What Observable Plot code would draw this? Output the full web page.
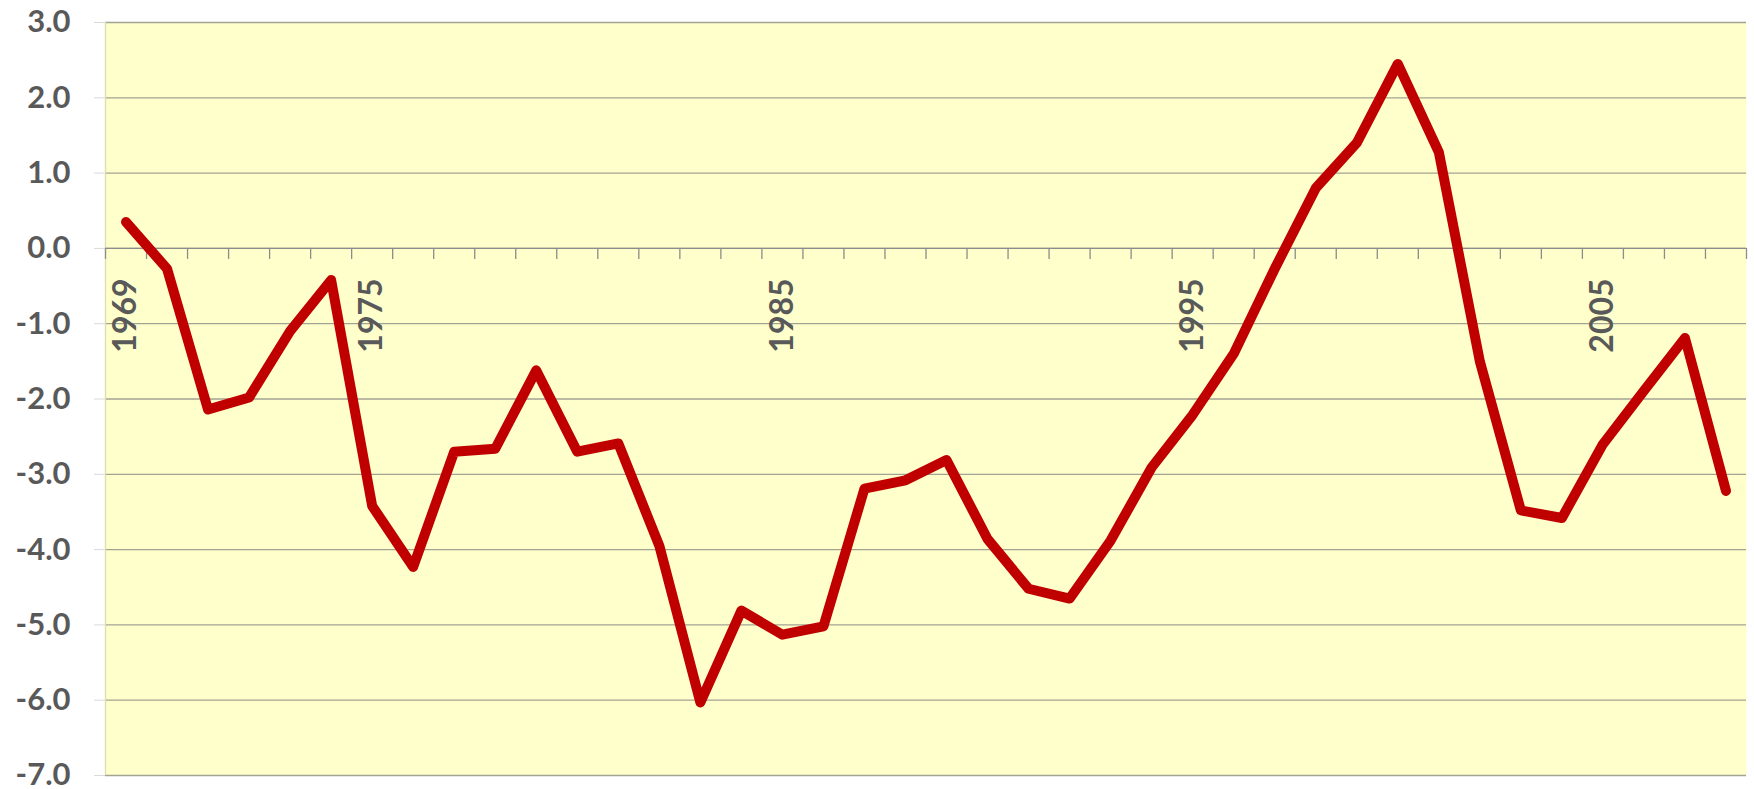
<!DOCTYPE html>
<html>
<head>
<meta charset="utf-8">
<script src="https://cdn.jsdelivr.net/npm/d3@7"></script>
<script src="https://cdn.jsdelivr.net/npm/@observablehq/plot@0.6"></script>
<style>
  html, body { margin: 0; padding: 0; background: #ffffff; }
  #chart { width: 1754px; height: 789px; }
</style>
</head>
<body>
<div id="chart"></div>
<script>
const years = [1969, 1970, 1971, 1972, 1973, 1974, 1975, 1976, 1977, 1978,
               1979, 1980, 1981, 1982, 1983, 1984, 1985, 1986, 1987, 1988,
               1989, 1990, 1991, 1992, 1993, 1994, 1995, 1996, 1997, 1998,
               1999, 2000, 2001, 2002, 2003, 2004, 2005, 2006, 2007, 2008];
const values = [0.35, -0.27, -2.14, -1.98, -1.10, -0.42, -3.42, -4.23, -2.70, -2.66,
                -1.62, -2.70, -2.59, -3.95, -6.03, -4.81, -5.13, -5.02, -3.19, -3.08,
                -2.81, -3.86, -4.52, -4.65, -3.88, -2.91, -2.21, -1.40, -0.27, 0.80,
                1.40, 2.45, 1.28, -1.50, -3.48, -3.58, -2.60, -1.89, -1.19, -3.22];
const xTickLabels = [1969, 1975, 1985, 1995, 2005];
const yTicks = [3, 2, 1, 0, -1, -2, -3, -4, -5, -6, -7];

const data = years.map((year, i) => ({year, value: values[i]}));
const boundaries = years.map(y => y - 0.5).concat([years[years.length - 1] + 0.5]);

const chart = Plot.plot({
  width: 1754,
  height: 789,
  marginLeft: 105,
  marginRight: 8,
  marginTop: 22,
  marginBottom: 14,
  style: {
    background: "#ffffff",
    fontFamily: "Lato, 'Open Sans', sans-serif",
    fontWeight: "bold",
    color: "#595959",
    overflow: "visible"
  },
  x: {domain: [years[0] - 0.5, years[years.length - 1] + 0.5], axis: null},
  y: {domain: [-7, 3], axis: null},
  marks: [
    Plot.frame({fill: "#FFFFCC", stroke: null}),
    Plot.ruleY(yTicks, {stroke: "#a3a394", strokeWidth: 1.3}),
    Plot.ruleX([years[0] - 0.5], {stroke: "#deddb0", strokeWidth: 1.3}),
    Plot.axisY(yTicks, {
      anchor: "left",
      label: null,
      tickSize: 11,
      tickPadding: 24,
      fontSize: 31,
      stroke: "#d9d9d9",
      fill: "#595959",
      tickFormat: d => d.toFixed(1)
    }),
    Plot.ruleY([0], {stroke: "#8c8c8c", strokeWidth: 1.3}),
    Plot.ruleX(boundaries, {y1: 0, y2: 0, insetBottom: -11, stroke: "#8c8c8c", strokeWidth: 1.3}),
    Plot.text(xTickLabels, {
      x: d => d,
      y: 0,
      text: d => String(d),
      rotate: -90,
      textAnchor: "end",
      dy: 30,
      fontSize: 32,
      fill: "#595959"
    }),
    Plot.line(data, {x: "year", y: "value", stroke: "#C00000", strokeWidth: 10})
  ]
});
document.getElementById("chart").appendChild(chart);
</script>
</body>
</html>
